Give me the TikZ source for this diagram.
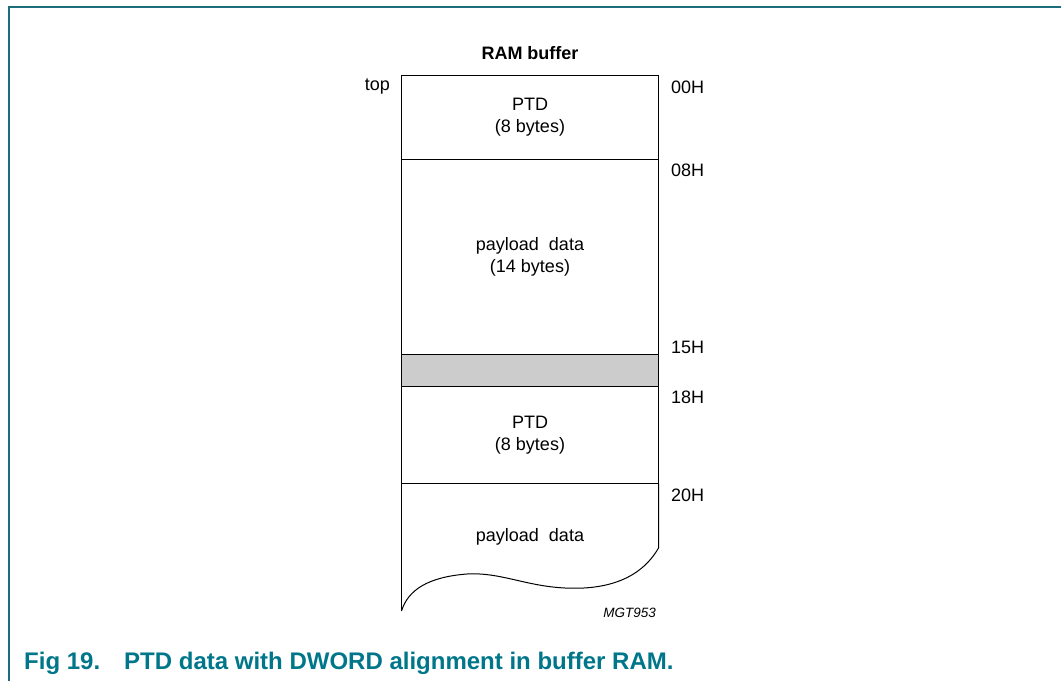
\documentclass[tikz,border=0pt]{standalone}
\usepackage{fontspec}
\setmainfont{Liberation Sans}
\definecolor{frameteal}{RGB}{28,108,124}
\definecolor{capteal}{RGB}{0,118,138}
\definecolor{bandgray}{RGB}{204,204,204}
\begin{document}
\begin{tikzpicture}[x=1pt,y=-1pt,
  lbl/.style={inner sep=0pt,font=\fontsize{18}{22}\selectfont},
  sect/.style={draw=black,line width=1pt,inner sep=0pt,minimum width=257pt,align=center,font=\fontsize{18}{22}\selectfont},
  edge/.style={draw=black,line width=1pt}]
\useasboundingbox (0,0) rectangle (1061,681);
% frame
\draw[frameteal,line width=1.5pt] (1061,7) -- (9,7) -- (9,681);
% title
\node[lbl,font=\fontsize{18}{22}\selectfont\bfseries] (title) at (530,53) {RAM buffer};
% sections
\node[sect,minimum height=84pt] (ptd1) at (530,117) {PTD\\(8 bytes)};
\node[sect,minimum height=195pt] (pay1) at (530,256.5) {payload\ \ data\\(14 bytes)};
\node[sect,minimum height=32pt,fill=bandgray] (pad) at (530,370.5) {};
\node[sect,minimum height=97pt] (ptd2) at (530,435) {PTD\\(8 bytes)};
% last (open) section
\coordinate (tl) at (401.5,483.5);
\coordinate (tr) at (658.5,483.5);
\coordinate (br) at (658.5,548);
\coordinate (bl) at (401.5,611);
\draw[edge] (tl) -- (bl);
\draw[edge] (tr) -- (br)
  .. controls (640,580) and (605,590) .. (565,588)
  .. controls (525,586) and (500,572) .. (467,574)
  .. controls (428,577) and (408,590) .. (bl);
\node[lbl] (pay2) at (530,537) {payload\ \ data};
% side labels
\node[lbl,anchor=east] (top) at (390,87) {top};
\node[lbl,anchor=west] (a00) at (671,87) {00H};
\node[lbl,anchor=west] (a08) at (671,170) {08H};
\node[lbl,anchor=west] (a15) at (671,347) {15H};
\node[lbl,anchor=west] (a18) at (671,397) {18H};
\node[lbl,anchor=west] (a20) at (671,495) {20H};
\node[lbl,anchor=east,font=\fontsize{13.5}{16}\selectfont\itshape] (code) at (656,613) {MGT953};
% caption
\node[inner sep=0pt,anchor=base west,text=capteal,font=\fontsize{24}{28}\selectfont\bfseries] (cap) at (24,669) {Fig 19.\hspace{1em}PTD data with DWORD alignment in buffer RAM.};
\end{tikzpicture}
\end{document}
